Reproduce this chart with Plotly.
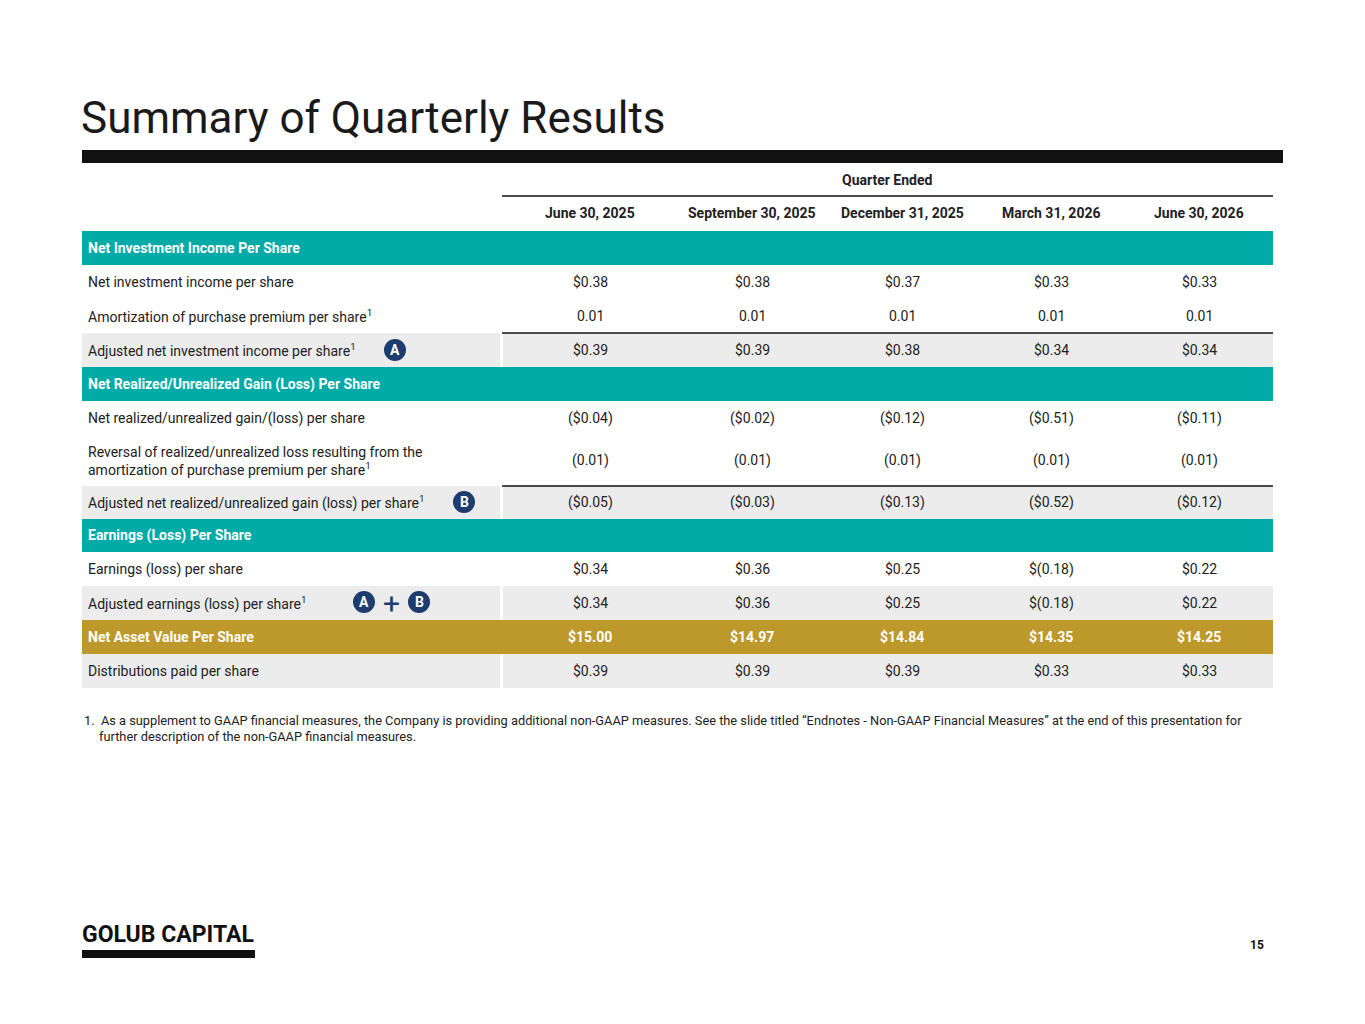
import plotly.graph_objects as go

TEAL = '#00aaa6'
GOLD = '#bd992c'
GREY = '#ececec'
NAVY = '#1d3d6e'
FONT = 'Roboto'

columns = ['June 30, 2025', 'September 30, 2025', 'December 31, 2025', 'March 31, 2026', 'June 30, 2026']
col_x = [590, 752, 902, 1051, 1199]

# (label, values, style, top, bottom)
rows = [
    ('Net Investment Income Per Share', None, 'teal', 231, 265),
    ('Net investment income per share', ['$0.38', '$0.38', '$0.37', '$0.33', '$0.33'], 'plain', 265, 299),
    ('Amortization of purchase premium per share<sup>1</sup>', ['0.01', '0.01', '0.01', '0.01', '0.01'], 'plain', 299, 333),
    ('Adjusted net investment income per share<sup>1</sup>', ['$0.39', '$0.39', '$0.38', '$0.34', '$0.34'], 'grey', 333, 367),
    ('Net Realized/Unrealized Gain (Loss) Per Share', None, 'teal', 367, 401),
    ('Net realized/unrealized gain/(loss) per share', ['($0.04)', '($0.02)', '($0.12)', '($0.51)', '($0.11)'], 'plain', 401, 435),
    ('Reversal of realized/unrealized loss resulting from the<br>amortization of purchase premium per share<sup>1</sup>',
     ['(0.01)', '(0.01)', '(0.01)', '(0.01)', '(0.01)'], 'plain', 435, 486),
    ('Adjusted net realized/unrealized gain (loss) per share<sup>1</sup>', ['($0.05)', '($0.03)', '($0.13)', '($0.52)', '($0.12)'], 'grey', 486, 519),
    ('Earnings (Loss) Per Share', None, 'teal', 519, 552),
    ('Earnings (loss) per share', ['$0.34', '$0.36', '$0.25', '$(0.18)', '$0.22'], 'plain', 552, 586),
    ('Adjusted earnings (loss) per share<sup>1</sup>', ['$0.34', '$0.36', '$0.25', '$(0.18)', '$0.22'], 'grey', 586, 620),
    ('Net Asset Value Per Share', ['$15.00', '$14.97', '$14.84', '$14.35', '$14.25'], 'gold', 620, 654),
    ('Distributions paid per share', ['$0.39', '$0.39', '$0.39', '$0.33', '$0.33'], 'grey', 654, 688),
]

badges = [('A', 395, 350), ('B', 464, 502), ('A', 364, 602), ('B', 419, 602)]

fig = go.Figure()
shapes = []
notes = []


def text(x, y, s, size=14, color='#222222', anchor='left', bold=False):
    if bold:
        s = '<b>' + s + '</b>'
    notes.append(dict(x=x, y=y, text=s, showarrow=False, xanchor=anchor, yanchor='middle', align=anchor,
                      font=dict(family=FONT, size=size, color=color)))


def rect(x0, y0, x1, y1, color):
    shapes.append(dict(type='rect', x0=x0, y0=y0, x1=x1, y1=y1, fillcolor=color, line_width=0, layer='below'))


# Titel e cabeçalho
text(79, 118, 'Summary of Quarterly Results', size=44, color='#1a1a1a')
rect(82, 150, 1283, 163, '#111111')
text(887, 180, 'Quarter Ended', size=14, anchor='center', bold=True)
shapes.append(dict(type='line', x0=502, x1=1273, y0=196, y1=196, line=dict(color='#111111', width=1.5)))
for x, c in zip(col_x, columns):
    text(x, 213, c, size=14, anchor='center', bold=True)

# Linhas da tabela
for label, values, style, top, bottom in rows:
    mid = (top + bottom) / 2
    color = '#222222'
    if style == 'teal':
        rect(82, top, 1273, bottom, TEAL)
        color = 'white'
    elif style == 'gold':
        rect(82, top, 1273, bottom, GOLD)
        color = 'white'
    elif style == 'grey':
        rect(82, top, 500, bottom, GREY)
        rect(503, top, 1273, bottom, GREY)
    text(86, mid, label, size=14, color=color, bold=style in ('teal', 'gold'))
    if values:
        for x, v in zip(col_x, values):
            text(x, mid, v, size=14, color=color, anchor='center', bold=style == 'gold')

for y in [333, 486]:
    shapes.append(dict(type='line', x0=502, x1=1273, y0=y, y1=y, line=dict(color='#111111', width=1.5)))

# Marcadores A / B
for letter, x, y in badges:
    shapes.append(dict(type='circle', x0=x - 11, x1=x + 11, y0=y - 11, y1=y + 11, fillcolor=NAVY, line_width=0))
    text(x, y, letter, size=14, color='white', anchor='center', bold=True)
text(391, 603, '+', size=30, color=NAVY, anchor='center')

# Nota de rodapé
text(82, 720, '1.  As a supplement to GAAP financial measures, the Company is providing additional non-GAAP measures. '
     'See the slide titled “Endnotes - Non-GAAP Financial Measures” at the end of this presentation for', size=12.8)
text(97, 736, 'further description of the non-GAAP financial measures.', size=12.8)

# Logo e número da página
text(80, 934, 'GOLUB CAPITAL', size=23, color='#111111', bold=True)
rect(82, 950, 255, 958, '#111111')
text(1266, 945, '15', size=12, color='#111111', anchor='right', bold=True)

# a página tem 8px de margem, então desloca os eixos
fig.update_layout(
    width=1365, height=1024, margin=dict(l=0, r=0, t=0, b=0),
    plot_bgcolor='white', paper_bgcolor='white',
    xaxis=dict(range=[8, 1373], visible=False, fixedrange=True),
    yaxis=dict(range=[1032, 8], visible=False, fixedrange=True),
    shapes=shapes, annotations=notes, showlegend=False,
)
fig.write_html('out.html')
